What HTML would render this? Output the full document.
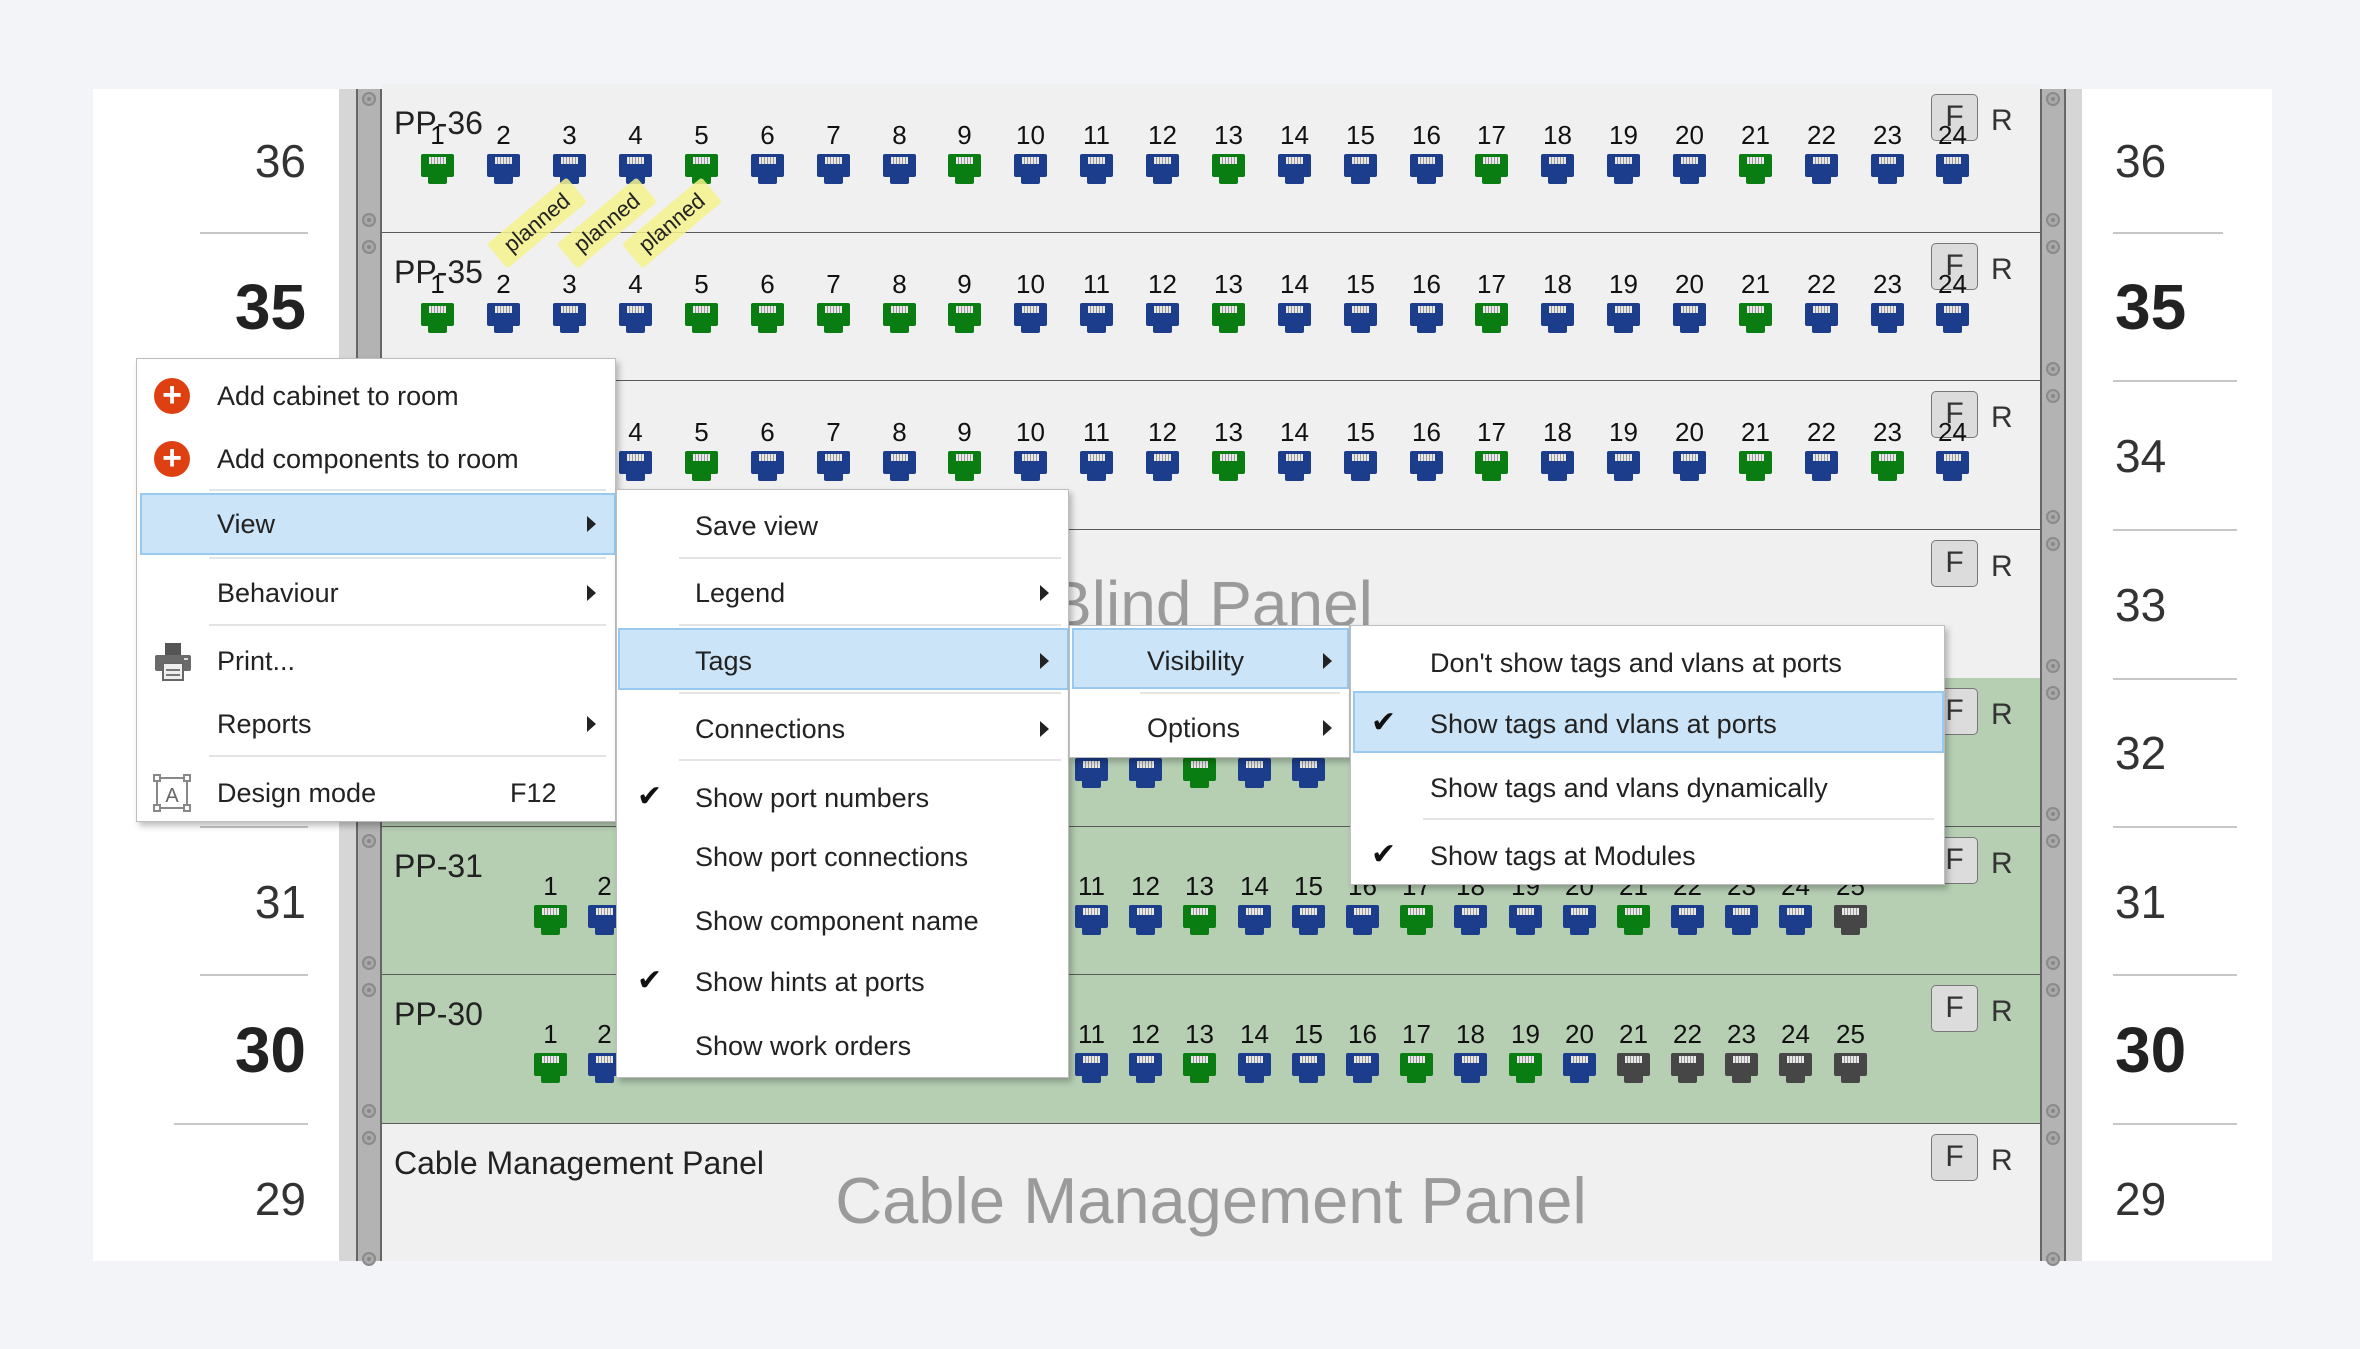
<!DOCTYPE html>
<html><head><meta charset="utf-8"><style>
*{margin:0;padding:0;box-sizing:border-box}
body{width:2360px;height:1349px;background:#f3f4f8;position:relative;overflow:hidden;font-family:"Liberation Sans",sans-serif;color:#222}
.abs{position:absolute}
#panel{position:absolute;left:93px;top:89px;width:2179px;height:1172px;background:#fff}
.row{position:absolute;left:382px;width:1658px;border-bottom:2px solid #5a5a5a;background:#f0f0f0}
.row.gr{background:#b6cfb3}
.lbl{position:absolute;left:12px;top:23px;font-size:32px;line-height:32px;color:#222}
.q{position:absolute;width:33px;height:22px}
.q b{position:absolute;left:-15px;width:63px;top:-32px;text-align:center;font-weight:normal;font-size:26px;line-height:26px;color:#111}
.q i{position:absolute;left:0;top:0;width:33px;height:23px;border-radius:2px}
.q i::before{content:"";position:absolute;left:8px;top:3px;width:17px;height:7px;background:repeating-linear-gradient(90deg,#e8e8e8 0 2px,#9a9a9a 2px 3px)}
.q i::after{content:"";position:absolute;left:7px;top:22px;width:19px;height:8px;background:inherit;border-radius:0 0 2px 2px}
.g{background:#0a7d12}.b{background:#1c3d8c}.k{background:#464646}
.F{position:absolute;left:1549px;width:47px;height:47px;border:1.5px solid #777;border-radius:5px;background:#dcdcdc;font-size:30px;line-height:44px;text-align:center;color:#333}
.R{position:absolute;left:1609px;font-size:30px;line-height:30px;color:#333}
.ln{position:absolute;font-size:46px;line-height:46px;color:#333}
.lr{left:180px;width:126px;text-align:right}
.ln.bd{font-size:64px;line-height:64px;font-weight:bold;color:#222}
.sep{position:absolute;height:2px;background:#c8c8c8}
.scr{position:absolute;width:14px;height:14px;border-radius:50%;border:2px solid #8a8a8a;background:#a9a9a9}
.scr::after{content:"";position:absolute;left:3px;top:3px;width:4px;height:4px;border-radius:50%;background:#888}
.menu{position:absolute;background:#fff;border:1px solid #bdbdbd;box-shadow:3px 4px 6px rgba(0,0,0,.25)}
.it{position:absolute;font-size:27px;line-height:40px;white-space:nowrap;color:#222}
.hl{position:absolute;background:#cce4f7;border:2px solid #99c9ef}
.ms{position:absolute;height:2px;background:#e4e4e4}
.ar{position:absolute;width:0;height:0;border-top:8px solid transparent;border-bottom:8px solid transparent;border-left:9px solid #222}
.ck{position:absolute;font-size:30px;line-height:40px;color:#111}
.plus{position:absolute;width:36px;height:36px;border-radius:50%;background:#de4012;color:#fff;font-size:34px;line-height:35px;text-align:center;font-weight:bold}
.tag{position:absolute;width:104px;height:32px;background:rgba(245,242,140,.85);font-size:22px;line-height:32px;text-align:center;color:#222;transform:rotate(-40deg);border-radius:3px}
</style></head><body>
<div id="panel"></div>

<!-- left numbers -->
<div class="ln lr" style="top:138px">36</div>
<div class="ln bd lr" style="top:275px">35</div>
<div class="ln lr" style="top:433px">34</div>
<div class="ln lr" style="top:582px">33</div>
<div class="ln lr" style="top:730px">32</div>
<div class="ln lr" style="top:879px">31</div>
<div class="ln bd lr" style="top:1018px">30</div>
<div class="ln lr" style="top:1176px">29</div>
<div class="sep" style="left:200px;top:232px;width:108px"></div>
<div class="sep" style="left:174px;top:380px;width:134px"></div>
<div class="sep" style="left:200px;top:529px;width:108px"></div>
<div class="sep" style="left:200px;top:678px;width:108px"></div>
<div class="sep" style="left:200px;top:826px;width:108px"></div>
<div class="sep" style="left:200px;top:974px;width:108px"></div>
<div class="sep" style="left:174px;top:1123px;width:134px"></div>
<!-- right numbers -->
<div class="ln" style="left:2115px;top:138px">36</div>
<div class="ln bd" style="left:2115px;top:275px">35</div>
<div class="ln" style="left:2115px;top:433px">34</div>
<div class="ln" style="left:2115px;top:582px">33</div>
<div class="ln" style="left:2115px;top:730px">32</div>
<div class="ln" style="left:2115px;top:879px">31</div>
<div class="ln bd" style="left:2115px;top:1018px">30</div>
<div class="ln" style="left:2115px;top:1176px">29</div>
<div class="sep" style="left:2113px;top:232px;width:110px"></div>
<div class="sep" style="left:2113px;top:380px;width:124px"></div>
<div class="sep" style="left:2113px;top:529px;width:124px"></div>
<div class="sep" style="left:2113px;top:678px;width:124px"></div>
<div class="sep" style="left:2113px;top:826px;width:124px"></div>
<div class="sep" style="left:2113px;top:974px;width:124px"></div>
<div class="sep" style="left:2113px;top:1123px;width:124px"></div>

<!-- rails -->
<div class="abs" style="left:339px;top:89px;width:17px;height:1172px;background:#d6d6d6"></div>
<div class="abs" style="left:356px;top:89px;width:26px;height:1172px;background:#b3b3b3;border-left:2px solid #666;border-right:2px solid #666"></div>
<div class="abs" style="left:2040px;top:89px;width:26px;height:1172px;background:#b3b3b3;border-left:2px solid #666;border-right:2px solid #666"></div>
<div class="abs" style="left:2066px;top:89px;width:16px;height:1172px;background:#d6d6d6"></div>

<!-- rows -->
<div class="row" style="top:84px;height:150px"><div class="lbl">PP-36</div>
<div class="F" style="top:10px">F</div><div class="R" style="top:22px">R</div>
<div class="q" style="left:39px;top:70px"><b>1</b><i class="g"></i></div>
<div class="q" style="left:105px;top:70px"><b>2</b><i class="b"></i></div>
<div class="q" style="left:171px;top:70px"><b>3</b><i class="b"></i></div>
<div class="q" style="left:237px;top:70px"><b>4</b><i class="b"></i></div>
<div class="q" style="left:303px;top:70px"><b>5</b><i class="g"></i></div>
<div class="q" style="left:369px;top:70px"><b>6</b><i class="b"></i></div>
<div class="q" style="left:435px;top:70px"><b>7</b><i class="b"></i></div>
<div class="q" style="left:501px;top:70px"><b>8</b><i class="b"></i></div>
<div class="q" style="left:566px;top:70px"><b>9</b><i class="g"></i></div>
<div class="q" style="left:632px;top:70px"><b>10</b><i class="b"></i></div>
<div class="q" style="left:698px;top:70px"><b>11</b><i class="b"></i></div>
<div class="q" style="left:764px;top:70px"><b>12</b><i class="b"></i></div>
<div class="q" style="left:830px;top:70px"><b>13</b><i class="g"></i></div>
<div class="q" style="left:896px;top:70px"><b>14</b><i class="b"></i></div>
<div class="q" style="left:962px;top:70px"><b>15</b><i class="b"></i></div>
<div class="q" style="left:1028px;top:70px"><b>16</b><i class="b"></i></div>
<div class="q" style="left:1093px;top:70px"><b>17</b><i class="g"></i></div>
<div class="q" style="left:1159px;top:70px"><b>18</b><i class="b"></i></div>
<div class="q" style="left:1225px;top:70px"><b>19</b><i class="b"></i></div>
<div class="q" style="left:1291px;top:70px"><b>20</b><i class="b"></i></div>
<div class="q" style="left:1357px;top:70px"><b>21</b><i class="g"></i></div>
<div class="q" style="left:1423px;top:70px"><b>22</b><i class="b"></i></div>
<div class="q" style="left:1489px;top:70px"><b>23</b><i class="b"></i></div>
<div class="q" style="left:1554px;top:70px"><b>24</b><i class="b"></i></div>
</div>

<div class="row" style="top:233px;height:149px"><div class="lbl">PP-35</div>
<div class="F" style="top:10px">F</div><div class="R" style="top:22px">R</div>
<div class="q" style="left:39px;top:70px"><b>1</b><i class="g"></i></div>
<div class="q" style="left:105px;top:70px"><b>2</b><i class="b"></i></div>
<div class="q" style="left:171px;top:70px"><b>3</b><i class="b"></i></div>
<div class="q" style="left:237px;top:70px"><b>4</b><i class="b"></i></div>
<div class="q" style="left:303px;top:70px"><b>5</b><i class="g"></i></div>
<div class="q" style="left:369px;top:70px"><b>6</b><i class="g"></i></div>
<div class="q" style="left:435px;top:70px"><b>7</b><i class="g"></i></div>
<div class="q" style="left:501px;top:70px"><b>8</b><i class="g"></i></div>
<div class="q" style="left:566px;top:70px"><b>9</b><i class="g"></i></div>
<div class="q" style="left:632px;top:70px"><b>10</b><i class="b"></i></div>
<div class="q" style="left:698px;top:70px"><b>11</b><i class="b"></i></div>
<div class="q" style="left:764px;top:70px"><b>12</b><i class="b"></i></div>
<div class="q" style="left:830px;top:70px"><b>13</b><i class="g"></i></div>
<div class="q" style="left:896px;top:70px"><b>14</b><i class="b"></i></div>
<div class="q" style="left:962px;top:70px"><b>15</b><i class="b"></i></div>
<div class="q" style="left:1028px;top:70px"><b>16</b><i class="b"></i></div>
<div class="q" style="left:1093px;top:70px"><b>17</b><i class="g"></i></div>
<div class="q" style="left:1159px;top:70px"><b>18</b><i class="b"></i></div>
<div class="q" style="left:1225px;top:70px"><b>19</b><i class="b"></i></div>
<div class="q" style="left:1291px;top:70px"><b>20</b><i class="b"></i></div>
<div class="q" style="left:1357px;top:70px"><b>21</b><i class="g"></i></div>
<div class="q" style="left:1423px;top:70px"><b>22</b><i class="b"></i></div>
<div class="q" style="left:1489px;top:70px"><b>23</b><i class="b"></i></div>
<div class="q" style="left:1554px;top:70px"><b>24</b><i class="b"></i></div>
</div>

<div class="row" style="top:381px;height:150px"><div class="lbl">PP-34</div>
<div class="F" style="top:10px">F</div><div class="R" style="top:22px">R</div>
<div class="q" style="left:237px;top:70px"><b>4</b><i class="b"></i></div>
<div class="q" style="left:303px;top:70px"><b>5</b><i class="g"></i></div>
<div class="q" style="left:369px;top:70px"><b>6</b><i class="b"></i></div>
<div class="q" style="left:435px;top:70px"><b>7</b><i class="b"></i></div>
<div class="q" style="left:501px;top:70px"><b>8</b><i class="b"></i></div>
<div class="q" style="left:566px;top:70px"><b>9</b><i class="g"></i></div>
<div class="q" style="left:632px;top:70px"><b>10</b><i class="b"></i></div>
<div class="q" style="left:698px;top:70px"><b>11</b><i class="b"></i></div>
<div class="q" style="left:764px;top:70px"><b>12</b><i class="b"></i></div>
<div class="q" style="left:830px;top:70px"><b>13</b><i class="g"></i></div>
<div class="q" style="left:896px;top:70px"><b>14</b><i class="b"></i></div>
<div class="q" style="left:962px;top:70px"><b>15</b><i class="b"></i></div>
<div class="q" style="left:1028px;top:70px"><b>16</b><i class="b"></i></div>
<div class="q" style="left:1093px;top:70px"><b>17</b><i class="g"></i></div>
<div class="q" style="left:1159px;top:70px"><b>18</b><i class="b"></i></div>
<div class="q" style="left:1225px;top:70px"><b>19</b><i class="b"></i></div>
<div class="q" style="left:1291px;top:70px"><b>20</b><i class="b"></i></div>
<div class="q" style="left:1357px;top:70px"><b>21</b><i class="g"></i></div>
<div class="q" style="left:1423px;top:70px"><b>22</b><i class="b"></i></div>
<div class="q" style="left:1489px;top:70px"><b>23</b><i class="g"></i></div>
<div class="q" style="left:1554px;top:70px"><b>24</b><i class="b"></i></div>
</div>

<div class="row" style="top:530px;height:150px">
<div class="abs" style="left:0;width:1658px;top:42px;font-size:64px;line-height:64px;color:#9a9a9a;text-align:center">Blind Panel</div>
<div class="F" style="top:10px">F</div><div class="R" style="top:22px">R</div>
</div>

<div class="row gr" style="top:678px;height:150px">
<div class="F" style="top:10px">F</div><div class="R" style="top:22px">R</div>
<div class="q" style="left:693px;top:80px"><b>11</b><i class="b"></i></div>
<div class="q" style="left:747px;top:80px"><b>12</b><i class="b"></i></div>
<div class="q" style="left:801px;top:80px"><b>13</b><i class="g"></i></div>
<div class="q" style="left:856px;top:80px"><b>14</b><i class="b"></i></div>
<div class="q" style="left:910px;top:80px"><b>15</b><i class="b"></i></div>
</div>

<div class="row gr" style="top:827px;height:149px"><div class="lbl">PP-31</div>
<div class="F" style="top:10px">F</div><div class="R" style="top:22px">R</div>
<div class="q" style="left:152px;top:78px"><b>1</b><i class="g"></i></div>
<div class="q" style="left:206px;top:78px"><b>2</b><i class="b"></i></div>
<div class="q" style="left:693px;top:78px"><b>11</b><i class="b"></i></div>
<div class="q" style="left:747px;top:78px"><b>12</b><i class="b"></i></div>
<div class="q" style="left:801px;top:78px"><b>13</b><i class="g"></i></div>
<div class="q" style="left:856px;top:78px"><b>14</b><i class="b"></i></div>
<div class="q" style="left:910px;top:78px"><b>15</b><i class="b"></i></div>
<div class="q" style="left:964px;top:78px"><b>16</b><i class="b"></i></div>
<div class="q" style="left:1018px;top:78px"><b>17</b><i class="g"></i></div>
<div class="q" style="left:1072px;top:78px"><b>18</b><i class="b"></i></div>
<div class="q" style="left:1127px;top:78px"><b>19</b><i class="b"></i></div>
<div class="q" style="left:1181px;top:78px"><b>20</b><i class="b"></i></div>
<div class="q" style="left:1235px;top:78px"><b>21</b><i class="g"></i></div>
<div class="q" style="left:1289px;top:78px"><b>22</b><i class="b"></i></div>
<div class="q" style="left:1343px;top:78px"><b>23</b><i class="b"></i></div>
<div class="q" style="left:1397px;top:78px"><b>24</b><i class="b"></i></div>
<div class="q" style="left:1452px;top:78px"><b>25</b><i class="k"></i></div>
</div>

<div class="row gr" style="top:975px;height:150px"><div class="lbl">PP-30</div>
<div class="F" style="top:10px">F</div><div class="R" style="top:22px">R</div>
<div class="q" style="left:152px;top:78px"><b>1</b><i class="g"></i></div>
<div class="q" style="left:206px;top:78px"><b>2</b><i class="b"></i></div>
<div class="q" style="left:693px;top:78px"><b>11</b><i class="b"></i></div>
<div class="q" style="left:747px;top:78px"><b>12</b><i class="b"></i></div>
<div class="q" style="left:801px;top:78px"><b>13</b><i class="g"></i></div>
<div class="q" style="left:856px;top:78px"><b>14</b><i class="b"></i></div>
<div class="q" style="left:910px;top:78px"><b>15</b><i class="b"></i></div>
<div class="q" style="left:964px;top:78px"><b>16</b><i class="b"></i></div>
<div class="q" style="left:1018px;top:78px"><b>17</b><i class="g"></i></div>
<div class="q" style="left:1072px;top:78px"><b>18</b><i class="b"></i></div>
<div class="q" style="left:1127px;top:78px"><b>19</b><i class="g"></i></div>
<div class="q" style="left:1181px;top:78px"><b>20</b><i class="b"></i></div>
<div class="q" style="left:1235px;top:78px"><b>21</b><i class="k"></i></div>
<div class="q" style="left:1289px;top:78px"><b>22</b><i class="k"></i></div>
<div class="q" style="left:1343px;top:78px"><b>23</b><i class="k"></i></div>
<div class="q" style="left:1397px;top:78px"><b>24</b><i class="k"></i></div>
<div class="q" style="left:1452px;top:78px"><b>25</b><i class="k"></i></div>
</div>

<div class="row" style="top:1124px;height:137px;border-bottom:none"><div class="lbl">Cable Management Panel</div>
<div class="abs" style="left:0;width:1658px;top:45px;font-size:65px;line-height:64px;color:#9a9a9a;text-align:center">Cable Management Panel</div>
<div class="F" style="top:10px">F</div><div class="R" style="top:22px">R</div>
</div>

<!-- screws -->
<div class="scr" style="left:362px;top:92px"></div><div class="scr" style="left:362px;top:213px"></div>
<div class="scr" style="left:362px;top:240px"></div><div class="scr" style="left:362px;top:362px"></div>
<div class="scr" style="left:362px;top:389px"></div><div class="scr" style="left:362px;top:510px"></div>
<div class="scr" style="left:362px;top:537px"></div><div class="scr" style="left:362px;top:659px"></div>
<div class="scr" style="left:362px;top:686px"></div><div class="scr" style="left:362px;top:807px"></div>
<div class="scr" style="left:362px;top:834px"></div><div class="scr" style="left:362px;top:956px"></div>
<div class="scr" style="left:362px;top:983px"></div><div class="scr" style="left:362px;top:1104px"></div>
<div class="scr" style="left:362px;top:1131px"></div><div class="scr" style="left:362px;top:1252px"></div>
<div class="scr" style="left:2046px;top:92px"></div><div class="scr" style="left:2046px;top:213px"></div>
<div class="scr" style="left:2046px;top:240px"></div><div class="scr" style="left:2046px;top:362px"></div>
<div class="scr" style="left:2046px;top:389px"></div><div class="scr" style="left:2046px;top:510px"></div>
<div class="scr" style="left:2046px;top:537px"></div><div class="scr" style="left:2046px;top:659px"></div>
<div class="scr" style="left:2046px;top:686px"></div><div class="scr" style="left:2046px;top:807px"></div>
<div class="scr" style="left:2046px;top:834px"></div><div class="scr" style="left:2046px;top:956px"></div>
<div class="scr" style="left:2046px;top:983px"></div><div class="scr" style="left:2046px;top:1104px"></div>
<div class="scr" style="left:2046px;top:1131px"></div><div class="scr" style="left:2046px;top:1252px"></div>

<!-- planned tags -->
<div class="tag" style="left:485px;top:207px">planned</div>
<div class="tag" style="left:555px;top:207px">planned</div>
<div class="tag" style="left:620px;top:207px">planned</div>

<!-- menu 1 -->
<div class="menu" style="left:136px;top:358px;width:480px;height:464px">
<div class="plus" style="left:17px;top:19px">+</div>
<div class="it" style="left:80px;top:17px">Add cabinet to room</div>
<div class="plus" style="left:17px;top:82px">+</div>
<div class="it" style="left:80px;top:80px">Add components to room</div>
<div class="ms" style="left:72px;top:130px;width:397px"></div>
<div class="hl" style="left:3px;top:134px;width:476px;height:62px"></div>
<div class="it" style="left:80px;top:145px">View</div><div class="ar" style="left:450px;top:157px"></div>
<div class="ms" style="left:72px;top:198px;width:397px"></div>
<div class="it" style="left:80px;top:214px">Behaviour</div><div class="ar" style="left:450px;top:226px"></div>
<div class="ms" style="left:72px;top:265px;width:397px"></div>
<svg class="abs" style="left:17px;top:284px" width="38" height="38" viewBox="0 0 38 38"><rect x="11" y="0" width="16" height="12" fill="#555"/><rect x="1" y="12" width="36" height="16" rx="2" fill="#6a6a6a"/><rect x="9" y="20" width="20" height="17" fill="#eee" stroke="#666" stroke-width="2"/><rect x="12" y="26" width="14" height="2" fill="#777"/><rect x="12" y="31" width="14" height="2" fill="#777"/><rect x="30" y="15" width="4" height="2" fill="#ddd"/></svg>
<div class="it" style="left:80px;top:282px">Print...</div>
<div class="it" style="left:80px;top:345px">Reports</div><div class="ar" style="left:450px;top:357px"></div>
<div class="ms" style="left:72px;top:396px;width:397px"></div>
<svg class="abs" style="left:16px;top:415px" width="38" height="38" viewBox="0 0 38 38"><rect x="4" y="4" width="30" height="30" fill="none" stroke="#888" stroke-width="2"/><rect x="1" y="1" width="6" height="6" fill="#fff" stroke="#888" stroke-width="2"/><rect x="31" y="1" width="6" height="6" fill="#fff" stroke="#888" stroke-width="2"/><rect x="1" y="31" width="6" height="6" fill="#fff" stroke="#888" stroke-width="2"/><rect x="31" y="31" width="6" height="6" fill="#fff" stroke="#888" stroke-width="2"/><text x="19" y="28" font-size="20" text-anchor="middle" fill="#666" font-family="Liberation Sans">A</text></svg>
<div class="it" style="left:80px;top:414px">Design mode</div>
<div class="it" style="left:373px;top:414px">F12</div>
</div>

<!-- menu 2 -->
<div class="menu" style="left:616px;top:489px;width:453px;height:589px">
<div class="it" style="left:78px;top:16px">Save view</div>
<div class="ms" style="left:62px;top:67px;width:382px"></div>
<div class="it" style="left:78px;top:83px">Legend</div><div class="ar" style="left:423px;top:95px"></div>
<div class="ms" style="left:62px;top:134px;width:382px"></div>
<div class="hl" style="left:1px;top:138px;width:451px;height:62px"></div>
<div class="it" style="left:78px;top:151px">Tags</div><div class="ar" style="left:423px;top:163px"></div>
<div class="ms" style="left:62px;top:202px;width:382px"></div>
<div class="it" style="left:78px;top:219px">Connections</div><div class="ar" style="left:423px;top:231px"></div>
<div class="ms" style="left:62px;top:269px;width:382px"></div>
<div class="ck" style="left:20px;top:287px">✔</div>
<div class="it" style="left:78px;top:288px">Show port numbers</div>
<div class="it" style="left:78px;top:347px">Show port connections</div>
<div class="it" style="left:78px;top:411px">Show component name</div>
<div class="ck" style="left:20px;top:471px">✔</div>
<div class="it" style="left:78px;top:472px">Show hints at ports</div>
<div class="it" style="left:78px;top:536px">Show work orders</div>
</div>

<!-- menu 3 -->
<div class="menu" style="left:1069px;top:625px;width:281px;height:133px">
<div class="hl" style="left:2px;top:2px;width:277px;height:61px"></div>
<div class="it" style="left:77px;top:15px">Visibility</div><div class="ar" style="left:253px;top:27px"></div>
<div class="ms" style="left:70px;top:66px;width:200px"></div>
<div class="it" style="left:77px;top:82px">Options</div><div class="ar" style="left:253px;top:94px"></div>
</div>

<!-- menu 4 -->
<div class="menu" style="left:1350px;top:625px;width:595px;height:260px">
<div class="it" style="left:79px;top:17px">Don't show tags and vlans at ports</div>
<div class="hl" style="left:2px;top:65px;width:591px;height:62px"></div>
<div class="ck" style="left:20px;top:77px">✔</div>
<div class="it" style="left:79px;top:78px">Show tags and vlans at ports</div>
<div class="it" style="left:79px;top:142px">Show tags and vlans dynamically</div>
<div class="ms" style="left:72px;top:192px;width:511px"></div>
<div class="ck" style="left:20px;top:209px">✔</div>
<div class="it" style="left:79px;top:210px">Show tags at Modules</div>
</div>
</body></html>
